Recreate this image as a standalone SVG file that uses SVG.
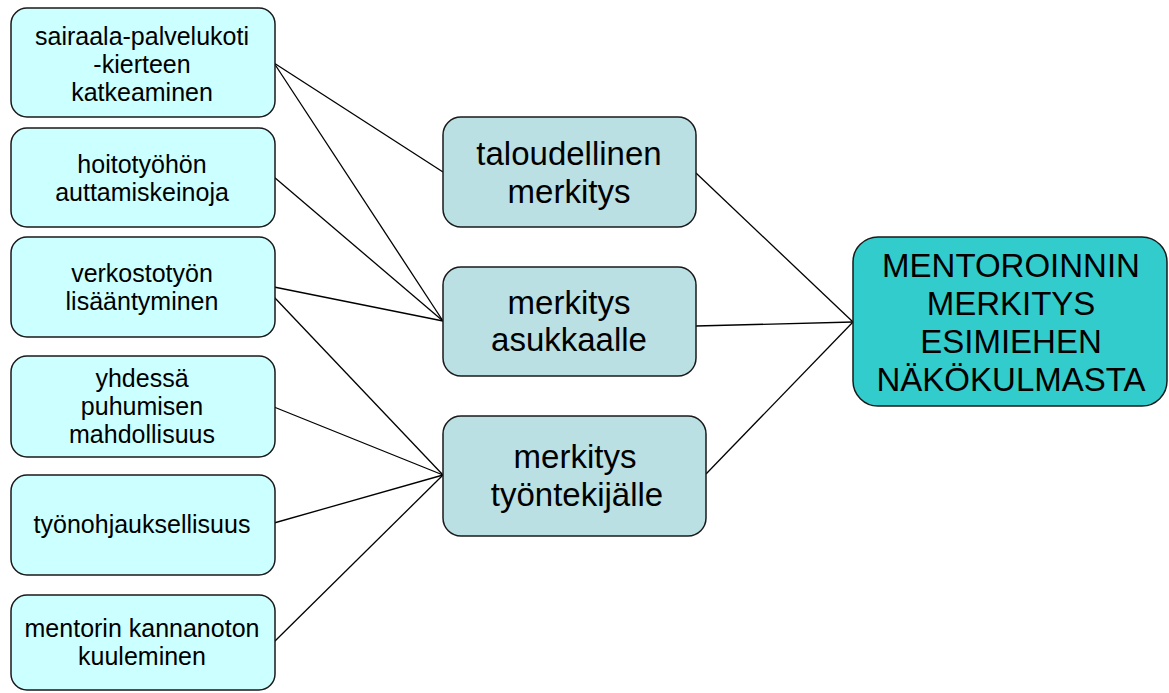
<svg xmlns="http://www.w3.org/2000/svg" width="1169" height="693" viewBox="0 0 1169 693">
  <style>
    .bg { fill: #FFFFFF; }
    .leaf rect { fill: #CCFFFF; stroke: #1a1a1a; stroke-width: 1.5; }
    .mid rect { fill: #BAE0E3; stroke: #1a1a1a; stroke-width: 1.5; }
    .root rect { fill: #33CCCC; stroke: #1a1a1a; stroke-width: 1.5; }
    text { font-family: "Liberation Sans", Arial, sans-serif; fill: #000000; text-anchor: middle; }
    .leaf text { font-size: 25px; }
    .mid text { font-size: 33px; }
    .root text { font-size: 33px; }
    #connectors line { stroke: #000000; stroke-width: 1.3; }
  </style>
  <rect class="bg" x="0" y="0" width="1169" height="693"/>

  <g id="connectors">
    <line x1="274" y1="63" x2="443" y2="172"/>
    <line x1="274" y1="63" x2="443" y2="321"/>
    <line x1="274" y1="177" x2="443" y2="321"/>
    <line x1="274" y1="287" x2="443" y2="321"/>
    <line x1="274" y1="297" x2="443" y2="475"/>
    <line x1="274" y1="407" x2="443" y2="475"/>
    <line x1="274" y1="523" x2="443" y2="475"/>
    <line x1="274" y1="642" x2="443" y2="475"/>
    <line x1="696" y1="173" x2="853" y2="322"/>
    <line x1="696" y1="326" x2="853" y2="322"/>
    <line x1="706" y1="474" x2="853" y2="322"/>
  </g>

  <g id="leaf1" class="leaf">
    <rect x="11" y="8" width="264" height="109" rx="16"/>
    <text x="142" y="45">sairaala-palvelukoti</text>
    <text x="142" y="73">-kierteen</text>
    <text x="142" y="101">katkeaminen</text>
  </g>
  <g id="leaf2" class="leaf">
    <rect x="11" y="128" width="264" height="99" rx="16"/>
    <text x="142" y="173">hoitotyöhön</text>
    <text x="142" y="201">auttamiskeinoja</text>
  </g>
  <g id="leaf3" class="leaf">
    <rect x="11" y="237" width="264" height="100" rx="16"/>
    <text x="142" y="282">verkostotyön</text>
    <text x="142" y="310">lisääntyminen</text>
  </g>
  <g id="leaf4" class="leaf">
    <rect x="11" y="356" width="264" height="101" rx="16"/>
    <text x="142" y="387">yhdessä</text>
    <text x="142" y="415">puhumisen</text>
    <text x="142" y="443">mahdollisuus</text>
  </g>
  <g id="leaf5" class="leaf">
    <rect x="11" y="475" width="264" height="100" rx="16"/>
    <text x="142" y="533">työnohjauksellisuus</text>
  </g>
  <g id="leaf6" class="leaf">
    <rect x="11" y="595" width="264" height="95" rx="16"/>
    <text x="142" y="637">mentorin kannanoton</text>
    <text x="142" y="665">kuuleminen</text>
  </g>

  <g id="mid1" class="mid">
    <rect x="443" y="117" width="253" height="110" rx="18"/>
    <text x="569" y="165">taloudellinen</text>
    <text x="569" y="203">merkitys</text>
  </g>
  <g id="mid2" class="mid">
    <rect x="443" y="267" width="253" height="109" rx="18"/>
    <text x="569" y="314">merkitys</text>
    <text x="569" y="351">asukkaalle</text>
  </g>
  <g id="mid3" class="mid">
    <rect x="443" y="416" width="263" height="120" rx="18"/>
    <text x="575" y="468">merkitys</text>
    <text x="577" y="506">työntekijälle</text>
  </g>

  <g id="root" class="root">
    <rect x="853" y="237" width="314" height="169" rx="25"/>
    <text x="1011" y="277">MENTOROINNIN</text>
    <text x="1011" y="315">MERKITYS</text>
    <text x="1011" y="353">ESIMIEHEN</text>
    <text x="1011" y="391">NÄKÖKULMASTA</text>
  </g>
</svg>
